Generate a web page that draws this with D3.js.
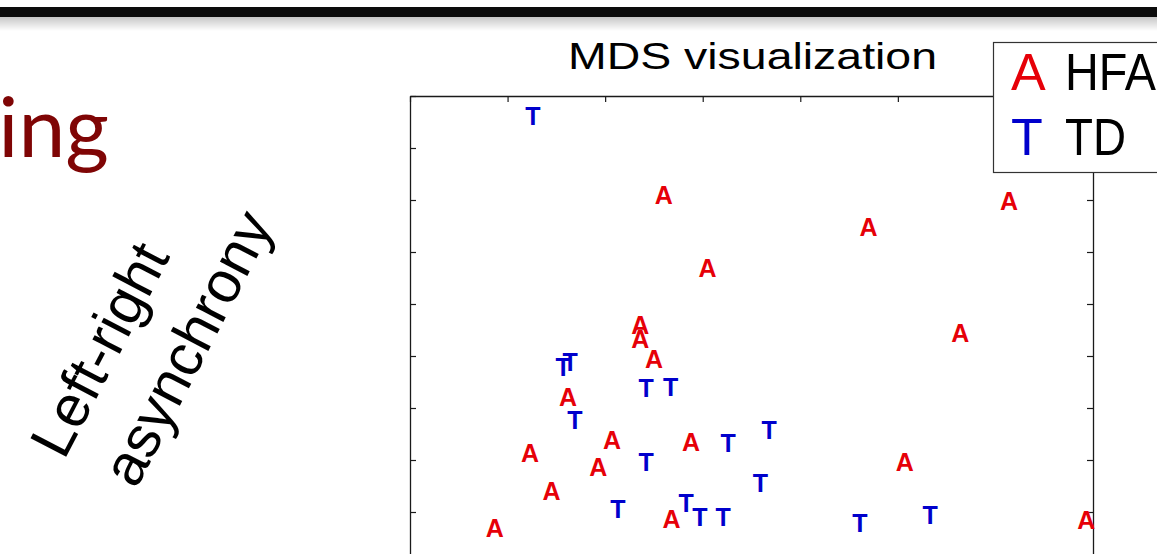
<!DOCTYPE html>
<html><head><meta charset="utf-8">
<script src="https://cdn.jsdelivr.net/npm/d3@7/dist/d3.min.js"></script>
<style>html,body{margin:0;padding:0;background:#fff;overflow:hidden}</style>
</head><body>
<svg id="c" width="1157" height="554"></svg>
<script>
// ---- data ----
const chartTitle = "MDS visualization";
const slideTitleFragment = "ing";
const sideLabelLines = ["Left-right", "asynchrony"];
const groupNames = ["HFA", "TD"];
const groupMarkers = ["A", "T"];
const groupColors = ["#e60008", "#0000cc"];
// HFA (A) coordinates
const hfaX = [2.60, 3.05, 4.70, 6.14, 5.64, 2.36, 2.36, 2.50, 1.62, 2.07, 2.88, 1.23, 1.93, 1.45, 2.68, 0.87, 5.07, 6.93];
const hfaY = [7.10, 5.69, 6.48, 6.98, 4.44, 4.60, 4.33, 3.94, 3.21, 2.39, 2.35, 2.14, 1.87, 1.40, 0.87, 0.69, 1.96, 0.85];
// TD (T) coordinates
const tdX = [1.26, 1.57, 1.64, 2.42, 2.67, 1.69, 3.26, 2.42, 2.13, 2.83, 2.97, 3.21, 3.68, 3.59, 4.61, 5.33];
const tdY = [8.62, 3.79, 3.89, 3.39, 3.40, 2.77, 2.33, 1.96, 1.06, 1.17, 0.90, 0.90, 2.58, 1.56, 0.79, 0.94];
const xTicks = [0, 1, 2, 3, 4, 5, 6, 7];
const yTicks = [0, 1, 2, 3, 4, 5, 6, 7, 8, 9];

// ---- layout ----
const svg = d3.select("#c");
const W = 1157, H = 554;
const plot = {left: 410, right: 1093, top: 96, bottom: 564};

// slide top bar with shadow
const defs = svg.append("defs");
const g1 = defs.append("linearGradient").attr("id", "shadow").attr("x1", 0).attr("y1", 0).attr("x2", 0).attr("y2", 1);
g1.append("stop").attr("offset", 0).attr("stop-color", "#000").attr("stop-opacity", 0.22);
g1.append("stop").attr("offset", 1).attr("stop-color", "#000").attr("stop-opacity", 0);
svg.append("rect").attr("x", 0).attr("y", 17).attr("width", W).attr("height", 14).attr("fill", "url(#shadow)");
svg.append("rect").attr("x", 0).attr("y", 7).attr("width", W).attr("height", 10).attr("fill", "#0c0c0c");

// slide title fragment
svg.append("text").attr("x", 109).attr("y", 157).attr("text-anchor", "end")
  .attr("font-family", "Lato, 'Open Sans', sans-serif").attr("font-size", 84)
  .attr("fill", "#7f0505").text(slideTitleFragment);

// rotated side label (left aligned lines)
const sideStarts = [[64, 461], [136, 490]];
sideLabelLines.forEach((t, i) => {
  svg.append("text")
    .attr("transform", `translate(${sideStarts[i][0]},${sideStarts[i][1]}) rotate(-62.5)`)
    .attr("font-family", "'Liberation Sans', Arial, sans-serif").attr("font-size", 58.5)
    .attr("fill", "#000").text(t);
});

// scales
const x = d3.scaleLinear().domain([0, 7]).range([plot.left, plot.right]);
const y = d3.scaleLinear().domain([0, 9]).range([plot.bottom, plot.top]);

const axisStyle = sel => {
  sel.select(".domain").attr("stroke", "#1a1a1a").attr("stroke-width", 1.3);
  sel.selectAll(".tick line").attr("stroke", "#1a1a1a").attr("stroke-width", 1.2);
  sel.selectAll(".tick text").remove();
};
svg.append("g").attr("transform", `translate(0,${plot.top})`)
  .call(d3.axisTop(x).tickValues(xTicks).tickSize(-6).tickSizeOuter(0).tickFormat("")).call(axisStyle);
svg.append("g").attr("transform", `translate(0,${plot.bottom})`)
  .call(d3.axisBottom(x).tickValues(xTicks).tickSize(-6).tickSizeOuter(0).tickFormat("")).call(axisStyle);
svg.append("g").attr("transform", `translate(${plot.left},0)`)
  .call(d3.axisLeft(y).tickValues(yTicks).tickSize(-6).tickSizeOuter(0).tickFormat("")).call(axisStyle);
svg.append("g").attr("transform", `translate(${plot.right},0)`)
  .call(d3.axisRight(y).tickValues(yTicks).tickSize(-6).tickSizeOuter(0).tickFormat("")).call(axisStyle);

// title
svg.append("text").attr("x", 568).attr("y", 69)
  .attr("font-family", "'Liberation Sans', Arial, sans-serif").attr("font-size", 37.5)
  .attr("textLength", 369).attr("lengthAdjust", "spacingAndGlyphs")
  .attr("fill", "#000").text(chartTitle);

// markers
const series = [
  {xs: tdX, ys: tdY, m: groupMarkers[1], c: groupColors[1]},
  {xs: hfaX, ys: hfaY, m: groupMarkers[0], c: groupColors[0]}
];
series.forEach(s => {
  svg.append("g").selectAll("text").data(s.xs.map((v, i) => [v, s.ys[i]])).join("text")
    .attr("x", d => x(d[0])).attr("y", d => y(d[1]))
    .attr("text-anchor", "middle").attr("dy", "0.36em")
    .attr("font-family", "'Liberation Sans', Arial, sans-serif").attr("font-weight", "bold")
    .attr("font-size", 25).attr("fill", s.c).text(s.m);
});

// legend
const lg = svg.append("g");
lg.append("rect").attr("x", 993.5).attr("y", 42.5).attr("width", 200).attr("height", 130)
  .attr("fill", "#fff").attr("stroke", "#333").attr("stroke-width", 1.2);
const legY = [90, 155];
groupNames.forEach((n, i) => {
  lg.append("text").attr("x", 1011).attr("y", legY[i])
    .attr("font-family", "'Liberation Sans', Arial, sans-serif").attr("font-size", 52)
    .attr("fill", groupColors[i]).text(groupMarkers[i]);
  lg.append("text").attr("x", 1065).attr("y", legY[i])
    .attr("font-family", "'Liberation Sans', Arial, sans-serif").attr("font-size", 52)
    .attr("textLength", i === 0 ? 91 : 61).attr("lengthAdjust", "spacingAndGlyphs")
    .attr("fill", "#000").text(n);
});
</script>
</body></html>
